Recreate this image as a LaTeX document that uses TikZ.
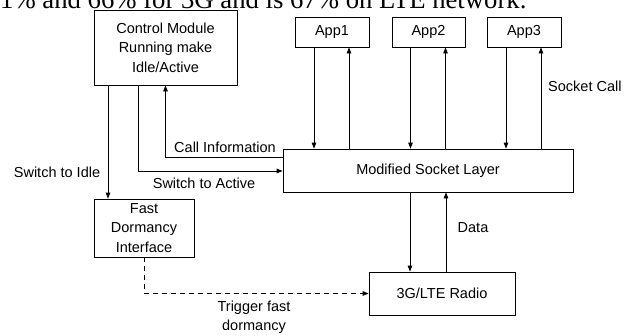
\documentclass[tikz,border=0pt]{standalone}
\usepackage{fontspec}
\setmainfont{Liberation Sans}
\newfontfamily\bodyserif{Liberation Serif}
\usetikzlibrary{arrows.meta}
\tikzset{
  box/.style={draw, line width=0.8pt, align=center, inner sep=0pt},
  lbl/.style={inner sep=0pt, align=center},
  flow/.style={line width=0.8pt, -{Triangle[length=6pt,width=4.5pt]}}
}
\begin{document}
\begin{tikzpicture}[x=1pt,y=-1pt,font=\fontsize{14.5}{19.5}\selectfont]
\useasboundingbox (0,0) rectangle (634,335);
\node[lbl, anchor=base west, font=\bodyserif\fontsize{26.7}{30}\selectfont] (prev) at (0,8) {1\% and 66\% for 3G and is 67\% on LTE network.};
\node[box, minimum width=143pt, minimum height=75pt] (ctrl) at (165.5,47.5) {Control Module\\Running make\\Idle/Active};
\node[box, minimum width=74pt, minimum height=30pt] (app1) at (332,32) {App1};
\node[box, minimum width=73pt, minimum height=30pt] (app2) at (428.5,32) {App2};
\node[box, minimum width=74pt, minimum height=30pt] (app3) at (524,32) {App3};
\node[box, minimum width=290pt, minimum height=43pt] (sock) at (428,170.5) {Modified Socket Layer};
\node[box, minimum width=146pt, minimum height=43pt] (radio) at (442,293.5) {3G/LTE Radio};
\node[box, minimum width=100pt, minimum height=58pt] (fast) at (144,228) {Fast\\Dormancy\\Interface};
\foreach \a in {app1,app2,app3}{
  \draw[flow] ([xshift=-18pt]\a.south) -- ([xshift=-18pt]\a.south |- sock.north);
  \draw[flow] ([xshift=17pt]\a.south |- sock.north) -- ([xshift=17pt]\a.south);
}
\draw[flow] ([yshift=13.5pt]sock.west) -| (ctrl.south);
\draw[flow] ([xshift=-27.5pt]ctrl.south) |- ([yshift=-0.5pt]sock.west);
\draw[flow] ([xshift=-57.5pt]ctrl.south) -- ([xshift=-57.5pt]ctrl.south |- fast.north);
\draw[flow] ([xshift=-18pt]sock.south) -- ([xshift=-18pt]sock.south |- radio.north);
\draw[flow] ([xshift=4pt]radio.north) -- ([xshift=4pt]radio.north |- sock.south);
\draw[flow, dashed, dash pattern=on 5pt off 4pt] (fast.south) |- (radio.west);
\node[lbl, anchor=west] (sockcall) at (548,86) {Socket Call};
\node[lbl] (callinfo) at (225,147) {Call Information};
\node[lbl] (toactive) at (204,183) {Switch to Active};
\node[lbl] (toidle) at (57,172) {Switch to Idle};
\node[lbl] (data) at (473,228) {Data};
\node[lbl] (trigger) at (254,317) {Trigger fast\\dormancy};
\end{tikzpicture}
\end{document}
